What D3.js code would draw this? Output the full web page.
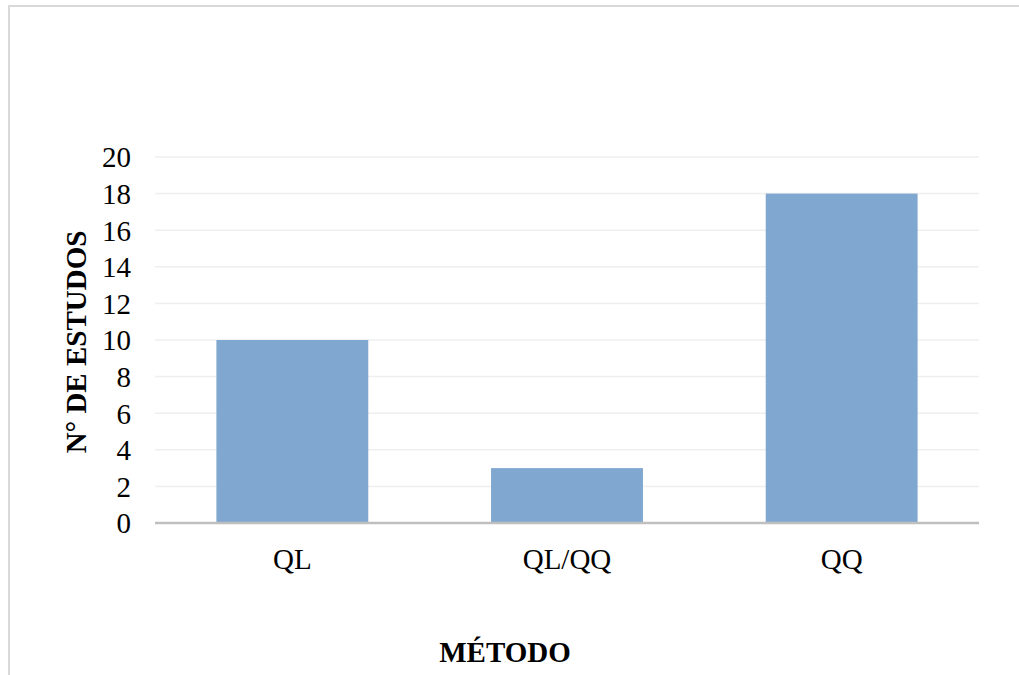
<!DOCTYPE html>
<html>
<head>
<meta charset="utf-8">
<script src="https://cdn.jsdelivr.net/npm/d3@7/dist/d3.min.js"></script>
<style>
  html, body { margin: 0; padding: 0; background: #fff; }
  svg { display: block; }
</style>
</head>
<body>
<script>
// Number of studies by method
const categories = ["QL", "QL/QQ", "QQ"];
const values = [10, 3, 18];
const yTicks = [0, 2, 4, 6, 8, 10, 12, 14, 16, 18, 20];

const W = 1019, H = 675;
const margin = { left: 155, right: 40, top: 157, bottom: 152 };

const svg = d3.select("body").append("svg")
  .attr("width", W).attr("height", H);

// Chart frame
svg.append("rect")
  .attr("x", 9).attr("y", 6)
  .attr("width", W + 10).attr("height", H + 10)
  .attr("fill", "#fff")
  .attr("stroke", "#d9d9d9").attr("stroke-width", 2);

const x = d3.scaleBand()
  .domain(categories)
  .range([margin.left, W - margin.right])
  .paddingInner(0.447).paddingOuter(0.2235);

const y = d3.scaleLinear()
  .domain([0, 20])
  .range([H - margin.bottom, margin.top]);

const font = "'Liberation Serif', 'Times New Roman', serif";

// Gridlines
svg.append("g").selectAll("line")
  .data(yTicks.filter(d => d > 0))
  .join("line")
  .attr("x1", margin.left).attr("x2", W - margin.right)
  .attr("y1", d => y(d)).attr("y2", d => y(d))
  .attr("stroke", "#efefef").attr("stroke-width", 1.5);

// Bars
svg.append("g").selectAll("rect")
  .data(values)
  .join("rect")
  .attr("x", (d, i) => x(categories[i]))
  .attr("width", x.bandwidth())
  .attr("y", d => y(d))
  .attr("height", d => y(0) - y(d))
  .attr("fill", "#80a7cf");

// Category axis
const xAxis = svg.append("g")
  .attr("transform", `translate(0,${y(0)})`)
  .call(d3.axisBottom(x).tickSize(0).tickPadding(46));
xAxis.select(".domain")
  .attr("stroke", "#bfbfbf").attr("stroke-width", 2.5)
  .attr("d", `M${margin.left},0H${W - margin.right}`);
xAxis.selectAll("text")
  .attr("font-family", font).attr("font-size", 29).attr("fill", "#000")
  .attr("dy", 0);

// Value axis
const yAxis = svg.append("g")
  .attr("transform", `translate(${margin.left},0)`)
  .call(d3.axisLeft(y).tickValues(yTicks).tickSize(0).tickPadding(24));
yAxis.select(".domain").remove();
yAxis.selectAll("text")
  .attr("font-family", font).attr("font-size", 29).attr("fill", "#000")
  .attr("dy", "0.34em");

// Axis titles
svg.append("text")
  .attr("x", (margin.left + W - margin.right) / 2 - 62)
  .attr("y", 662)
  .attr("text-anchor", "middle")
  .attr("font-family", font).attr("font-size", 29).attr("font-weight", "bold")
  .attr("fill", "#000")
  .text("MÉTODO");

svg.append("text")
  .attr("transform", `translate(86,342) rotate(-90)`)
  .attr("text-anchor", "middle")
  .attr("font-family", font).attr("font-size", 29).attr("font-weight", "bold")
  .attr("fill", "#000")
  .text("N° DE ESTUDOS");
</script>
</body>
</html>
